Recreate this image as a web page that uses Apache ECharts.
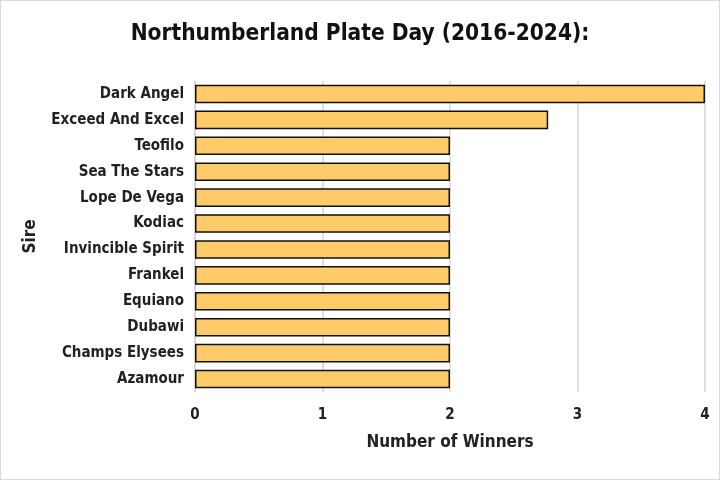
<!DOCTYPE html>
<html><head><meta charset="utf-8">
<script src="https://cdn.jsdelivr.net/npm/echarts@6/dist/echarts.min.js"></script>
<style>html,body{margin:0;padding:0;background:#fff}#c{width:718px;height:478px;border:1px solid #d9d9d9}</style>
</head><body><div id="c"></div>
<script>
const sires = ["Dark Angel","Exceed And Excel","Teofilo","Sea The Stars","Lope De Vega","Kodiac","Invincible Spirit","Frankel","Equiano","Dubawi","Champs Elysees","Azamour"];
const winners = [4, 2.77, 2, 2, 2, 2, 2, 2, 2, 2, 2, 2];
const xTicks = [0, 1, 2, 3, 4];
const FONT = '"Liberation Sans Narrow","DejaVu Sans Condensed","Roboto Condensed",sans-serif';
const chart = echarts.init(document.getElementById('c'));
chart.setOption({
  animation: false,
  textStyle: {fontFamily: FONT},
  title: {text: "Northumberland Plate Day (2016-2024):", left: 'center', top: 17,
    textStyle: {fontFamily: FONT, fontSize: 22.5, fontWeight: 'bold', color: '#111'}},
  grid: {left: 194, right: 14, top: 80, bottom: 87},
  xAxis: {type: 'value', min: xTicks[0], max: xTicks[xTicks.length-1], interval: 1,
    name: "Number of Winners", nameLocation: 'middle', nameGap: 42,
    nameTextStyle: {fontFamily: FONT, fontSize: 17, fontWeight: 'bold', color: '#222'},
    axisLabel: {fontFamily: FONT, fontSize: 15, fontWeight: 'bold', color: '#222', margin: 16},
    axisLine: {show: false}, axisTick: {show: false},
    splitLine: {show: true, lineStyle: {color: '#d4d4d4', width: 1.5}}},
  yAxis: {type: 'category', data: sires, inverse: true,
    name: "Sire", nameLocation: 'middle', nameGap: 156, nameRotate: 90,
    nameTextStyle: {fontFamily: FONT, fontSize: 17, fontWeight: 'bold', color: '#222'},
    axisLabel: {fontFamily: FONT, fontSize: 15, fontWeight: 'bold', color: '#222', margin: 11},
    axisLine: {show: true, lineStyle: {color: '#d4d4d4', width: 1.5}}, axisTick: {show: false}},
  series: [{type: 'bar', data: winners, barCategoryGap: '28%',
    itemStyle: {color: '#FFCA68', borderColor: '#111', borderWidth: 1.5}}]
});
</script></body></html>
